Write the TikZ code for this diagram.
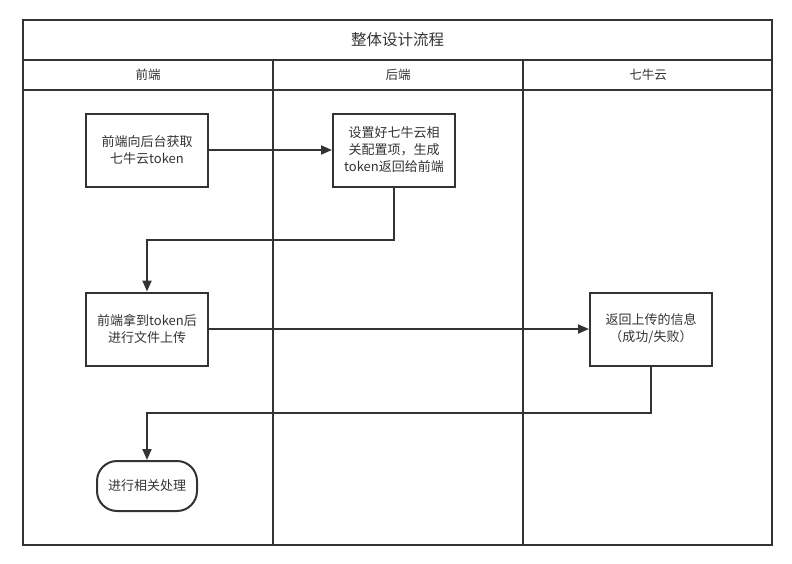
\documentclass[tikz,border=0pt]{standalone}
\usepackage{fontspec}
\setmainfont{Noto Sans CJK SC}
\usetikzlibrary{arrows.meta}
\definecolor{ink}{HTML}{333333}
\begin{document}
\begin{tikzpicture}[x=1pt,y=-1pt,
  lane/.style={draw=ink,line width=2pt},
  stepbox/.style={draw=ink,line width=2pt,minimum width=122pt,minimum height=73pt,align=center,inner sep=2pt,font=\fontsize{13}{17}\selectfont,text=ink},
  termbox/.style={draw=ink,line width=2pt,minimum width=100pt,minimum height=50pt,rounded corners=20pt,align=center,font=\fontsize{13}{17}\selectfont,text=ink},
  lbl/.style={font=\fontsize{12.5}{14}\selectfont,text=ink},
  conn/.style={draw=ink,line width=2pt,-{Triangle[length=11pt,width=9pt]}}]
\useasboundingbox (0,0) rectangle (792,563);
% pool
\draw[lane] (23,20) rectangle (772,545);
\draw[lane] (23,60) -- (772,60);
\draw[lane] (23,89.5) -- (772,89.5);
\draw[lane] (273,60) -- (273,545);
\draw[lane] (523,60) -- (523,545);
\node[lbl,font=\fontsize{15.5}{17}\selectfont] (title) at (397.5,40) {整体设计流程};
\node[lbl] (h1) at (148,75) {前端};
\node[lbl] (h2) at (398,75) {后端};
\node[lbl] (h3) at (648,75) {七牛云};
% steps
\node[stepbox] (b1) at (147,150) {前端向后台获取\\七牛云token};
\node[stepbox] (b2) at (394,150) {设置好七牛云相\\关配置项，生成\\token返回给前端};
\node[stepbox] (b3) at (147,329) {前端拿到token后\\进行文件上传};
\node[stepbox] (b4) at (651,329) {返回上传的信息\\（成功/失败）};
\node[termbox] (t1) at (147,486) {进行相关处理};
\coordinate (k1) at (394,240);
\coordinate (k2) at (651,412.5);
\draw[conn] (b1.east) -- (b2.west);
\draw[conn] (b2.south) -- (k1) -| (b3.north);
\draw[conn] (b3.east) -- (b4.west);
\draw[conn] (b4.south) -- (k2) -| (t1.north);
\end{tikzpicture}
\end{document}
